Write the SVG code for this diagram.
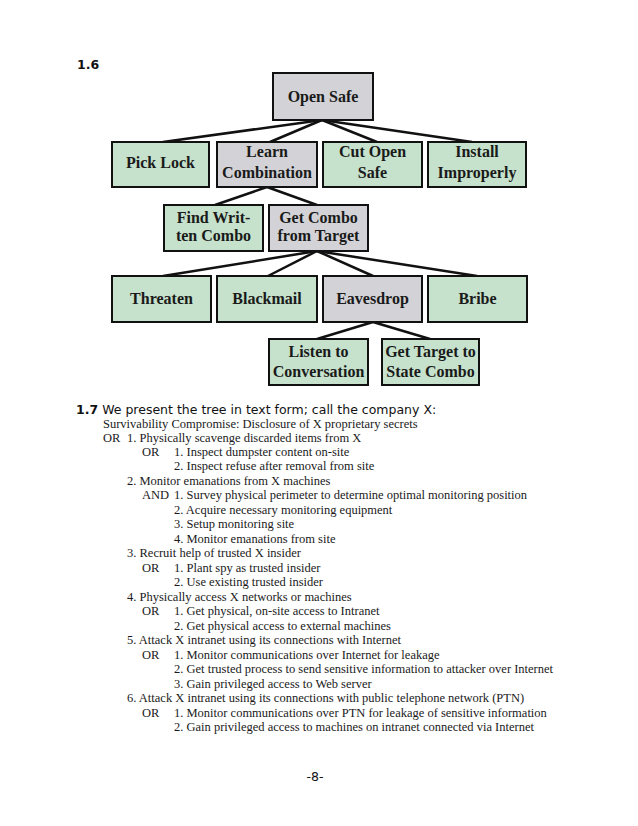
<svg xmlns="http://www.w3.org/2000/svg" width="638" height="826" viewBox="0 0 638 826">
<style>
.g{fill:#c6e2cc;stroke:#111;stroke-width:2}
.y{fill:#d3d3d7;stroke:#111;stroke-width:2}
.n{font-family:"Liberation Serif","Times New Roman",serif;font-weight:bold;font-size:16px;fill:#1a1a1a;text-anchor:middle}
.c line{stroke:#111;stroke-width:2.5}
.h{font-family:"DejaVu Sans",Verdana,sans-serif;font-size:12.5px;fill:#111}
.hb{font-weight:bold}
.t{font-family:"Liberation Serif","Times New Roman",serif;font-size:12.5px;fill:#1a1a1a}
</style>
<rect width="638" height="826" fill="#fff"/>
<text class="h hb" x="77" y="69">1.6</text>
<g class="c" id="connectors">
<line x1="322" y1="120" x2="163" y2="142"/>
<line x1="322" y1="120" x2="270" y2="142"/>
<line x1="322" y1="120" x2="377" y2="142"/>
<line x1="322" y1="120" x2="472" y2="142"/>
<line x1="267" y1="187" x2="215" y2="205"/>
<line x1="267" y1="187" x2="317" y2="205"/>
<line x1="317" y1="251" x2="163" y2="276"/>
<line x1="317" y1="251" x2="268" y2="276"/>
<line x1="317" y1="251" x2="373" y2="276"/>
<line x1="317" y1="251" x2="477" y2="276"/>
<line x1="373" y1="322" x2="317" y2="339"/>
<line x1="373" y1="322" x2="430" y2="339"/>
</g>
<g id="open-safe"><rect class="y" x="273" y="73" width="100" height="47"/><text class="n" x="323" y="102">Open Safe</text></g>
<g id="pick-lock"><rect class="g" x="112" y="142" width="97" height="45"/><text class="n" x="160.5" y="168">Pick Lock</text></g>
<g id="learn-combination"><rect class="y" x="217" y="142" width="100" height="45"/><text class="n" x="267" y="157">Learn</text><text class="n" x="267" y="178">Combination</text></g>
<g id="cut-open-safe"><rect class="g" x="323" y="142" width="99" height="45"/><text class="n" x="372.5" y="157">Cut Open</text><text class="n" x="372.5" y="178">Safe</text></g>
<g id="install-improperly"><rect class="g" x="428" y="142" width="98" height="45"/><text class="n" x="477" y="157">Install</text><text class="n" x="477" y="178">Improperly</text></g>
<g id="find-written-combo"><rect class="g" x="164" y="205" width="99" height="46"/><text class="n" x="213.5" y="223">Find Writ-</text><text class="n" x="213.5" y="241">ten Combo</text></g>
<g id="get-combo-from-target"><rect class="y" x="269" y="205" width="99" height="46"/><text class="n" x="318.5" y="223">Get Combo</text><text class="n" x="318.5" y="241">from Target</text></g>
<g id="threaten"><rect class="g" x="112" y="276" width="99" height="46"/><text class="n" x="161.5" y="304">Threaten</text></g>
<g id="blackmail"><rect class="g" x="217" y="276" width="100" height="46"/><text class="n" x="267" y="304">Blackmail</text></g>
<g id="eavesdrop"><rect class="y" x="323" y="276" width="99" height="46"/><text class="n" x="372.5" y="304">Eavesdrop</text></g>
<g id="bribe"><rect class="g" x="428" y="276" width="99" height="46"/><text class="n" x="477.5" y="304">Bribe</text></g>
<g id="listen-to-conversation"><rect class="g" x="269" y="339" width="99" height="46"/><text class="n" x="318.5" y="357">Listen to</text><text class="n" x="318.5" y="377">Conversation</text></g>
<g id="get-target-to-state-combo"><rect class="g" x="382" y="339" width="97" height="46"/><text class="n" x="430.5" y="357">Get Target to</text><text class="n" x="430.5" y="377">State Combo</text></g>
<text class="h" x="76" y="414" font-size="12.3"><tspan class="hb">1.7</tspan> We present the tree in text form; call the company X:</text>
<g class="t">
<text x="103" y="427.5">Survivability Compromise: Disclosure of X proprietary secrets</text>
<text x="103" y="441.5">OR</text><text x="127" y="441.5">1. Physically scavenge discarded items from X</text>
<text x="142" y="456">OR</text><text x="174" y="456">1. Inspect dumpster content on-site</text>
<text x="174" y="470.4">2. Inspect refuse after removal from site</text>
<text x="127" y="484.9">2. Monitor emanations from X machines</text>
<text x="142" y="499.4">AND</text><text x="174" y="499.4">1. Survey physical perimeter to determine optimal monitoring position</text>
<text x="174" y="513.9">2. Acquire necessary monitoring equipment</text>
<text x="174" y="528.4">3. Setup monitoring site</text>
<text x="174" y="542.8">4. Monitor emanations from site</text>
<text x="127" y="557.3">3. Recruit help of trusted X insider</text>
<text x="142" y="571.8">OR</text><text x="174" y="571.8">1. Plant spy as trusted insider</text>
<text x="174" y="586.3">2. Use existing trusted insider</text>
<text x="127" y="600.8">4. Physically access X networks or machines</text>
<text x="142" y="615.2">OR</text><text x="174" y="615.2">1. Get physical, on-site access to Intranet</text>
<text x="174" y="629.7">2. Get physical access to external machines</text>
<text x="127" y="644.2">5. Attack X intranet using its connections with Internet</text>
<text x="142" y="658.7">OR</text><text x="174" y="658.7">1. Monitor communications over Internet for leakage</text>
<text x="174" y="673.2">2. Get trusted process to send sensitive information to attacker over Internet</text>
<text x="174" y="687.6">3. Gain privileged access to Web server</text>
<text x="127" y="702.1">6. Attack X intranet using its connections with public telephone network (PTN)</text>
<text x="142" y="716.6">OR</text><text x="174" y="716.6">1. Monitor communications over PTN for leakage of sensitive information</text>
<text x="174" y="731.1">2. Gain privileged access to machines on intranet connected via Internet</text>
</g>
<text class="h" x="315" y="781" text-anchor="middle" font-size="12">-8-</text>
</svg>
